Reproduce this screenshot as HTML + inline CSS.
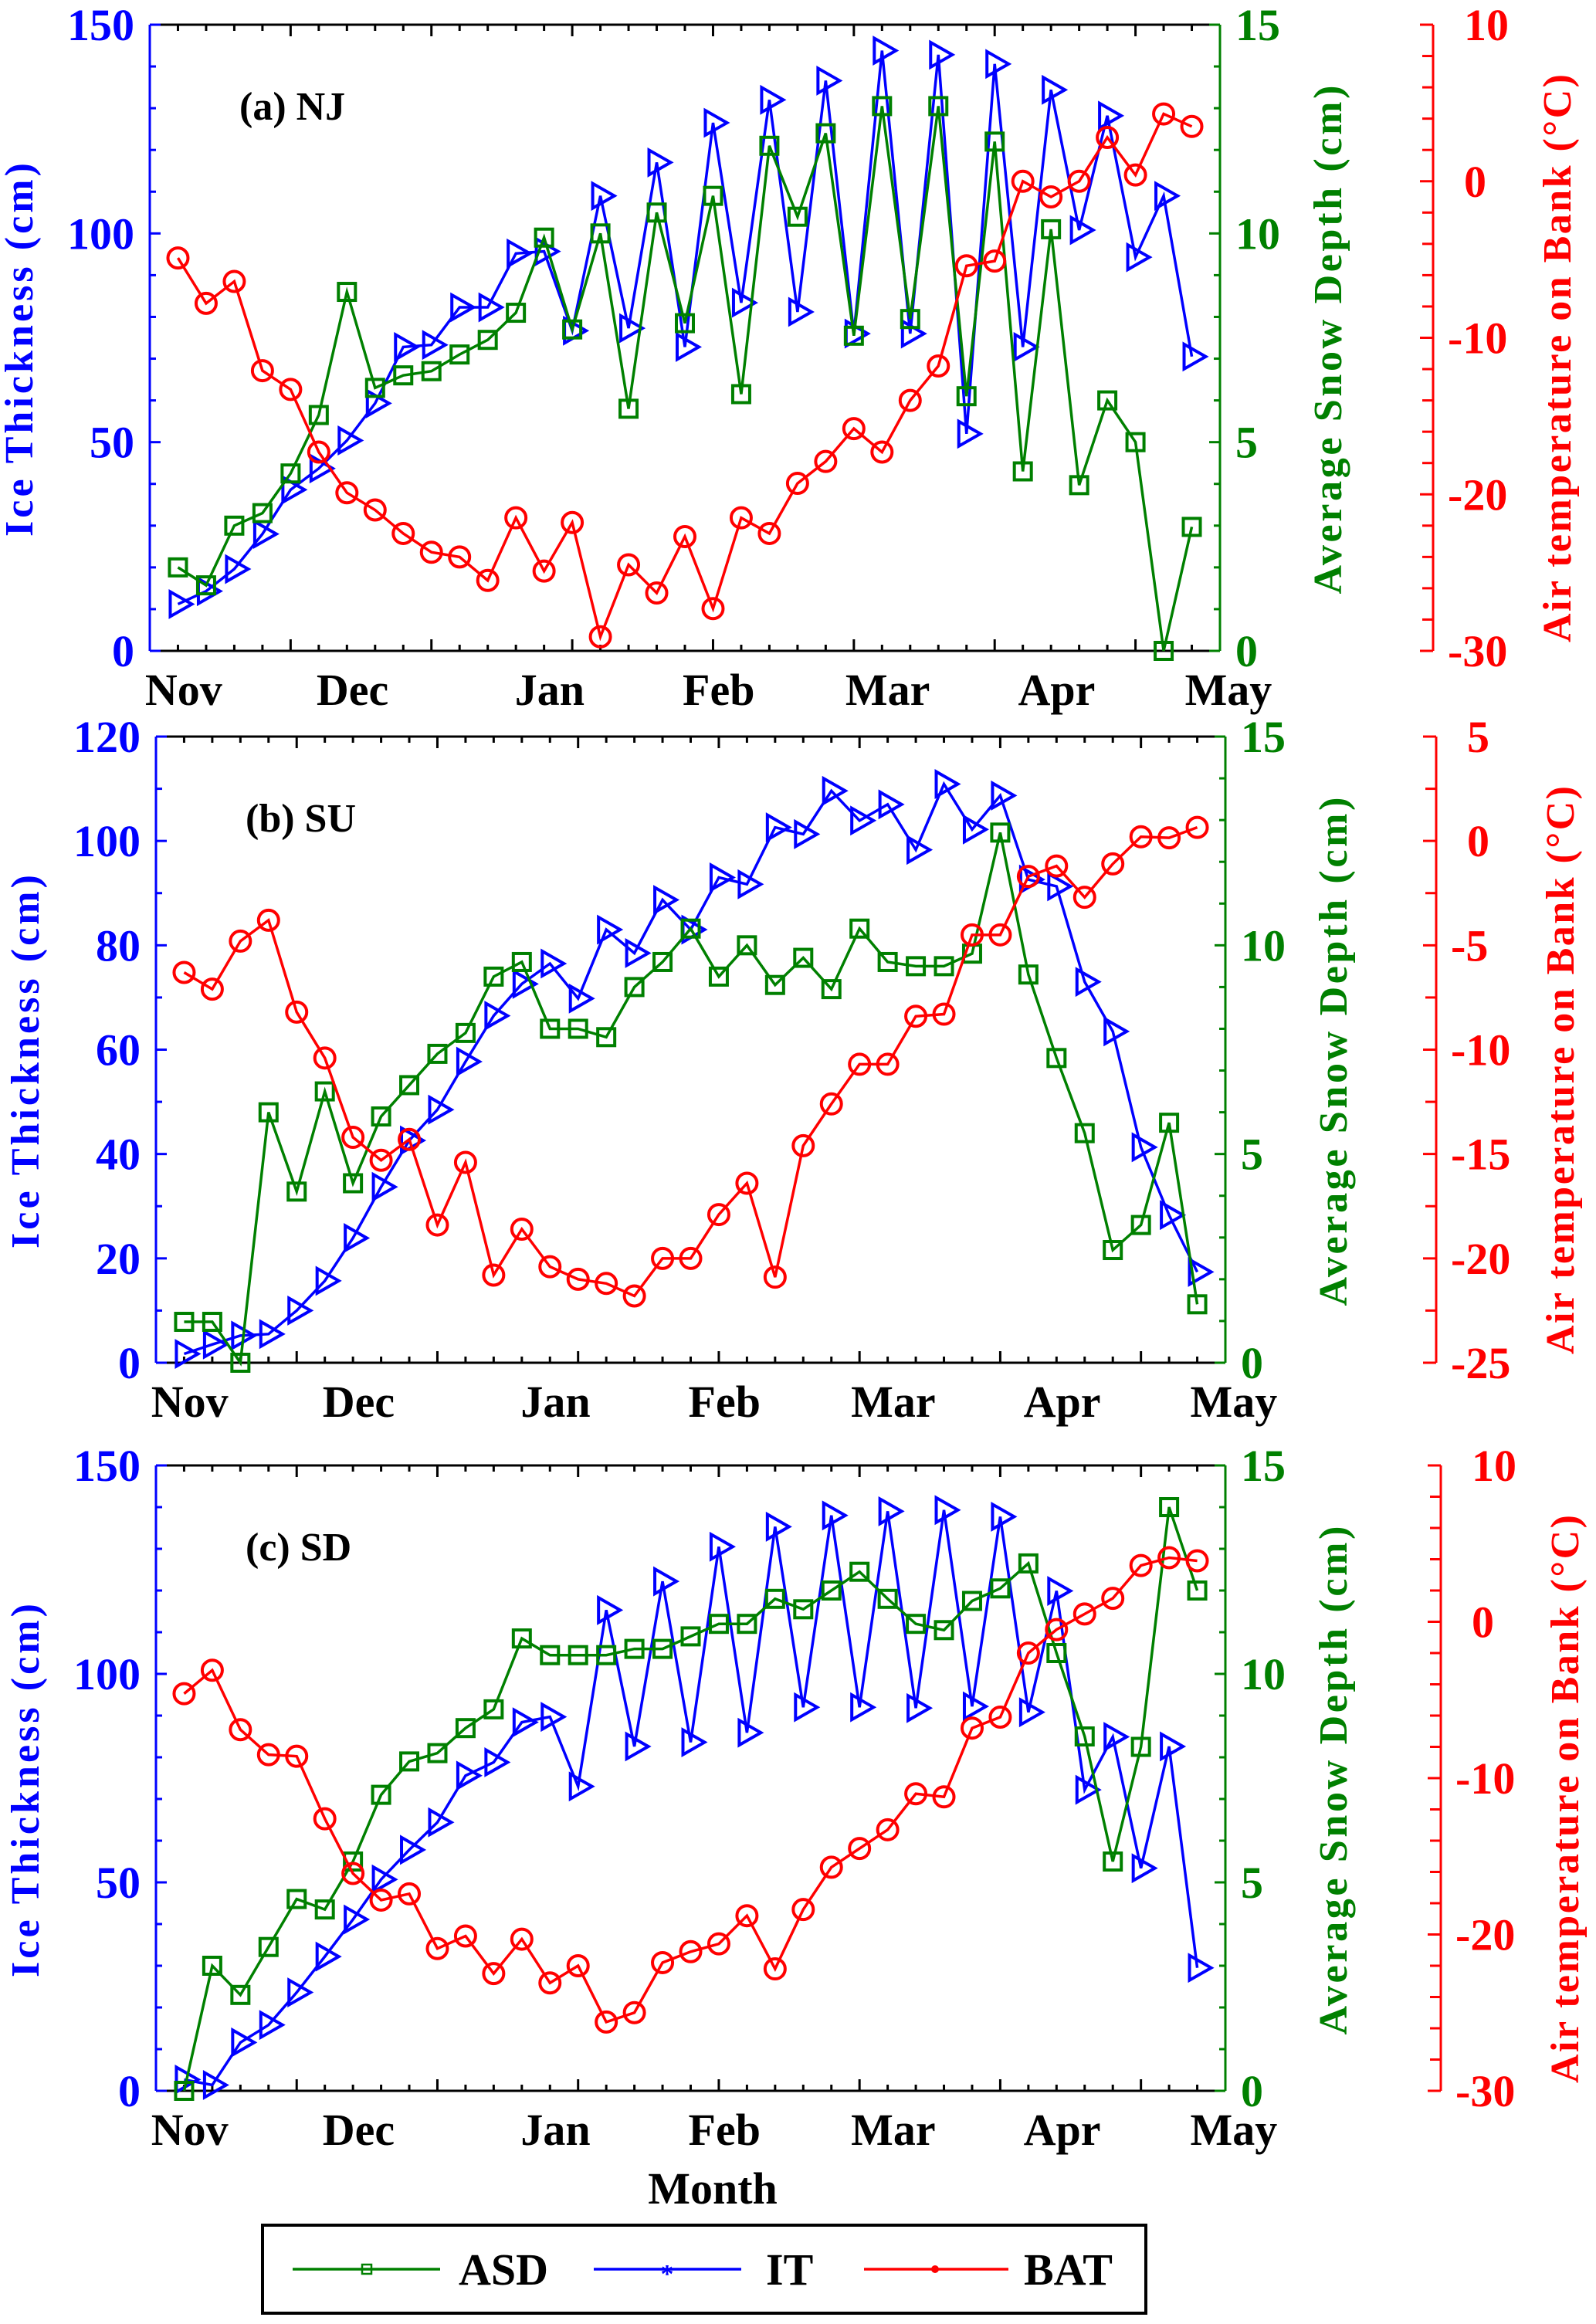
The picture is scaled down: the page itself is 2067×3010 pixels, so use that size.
<!DOCTYPE html>
<html><head><meta charset="utf-8">
<style>
html,body{margin:0;padding:0;background:#fff;}
svg{display:block;font-family:"Liberation Serif",serif;font-weight:bold;}
</style></head>
<body>
<svg id="chart" width="2067" height="3010" viewBox="0 0 2067 3010" xmlns="http://www.w3.org/2000/svg">
<rect x="0" y="0" width="2067" height="3010" fill="#fff"/>
</svg>
<script>
// ---- data ----
const months = ["Nov","Dec","Jan","Feb","Mar","Apr","May"];
const monthIdx = [0.2, 6.2, 13.2, 19.2, 25.2, 31.2, 37.3];
const panelTitles = ["(a) NJ","(b) SU","(c) SD"];

const itNJ = [11.2,14.3,19.6,28,38.6,43.7,50.4,59.3,72.8,73.3,82.3,82.3,95.2,95.7,76.7,109,77.3,117,72.8,126.5,83.4,132,81.2,136.6,76,143.8,76,142.8,52,140.6,72.8,134.4,100.8,128.2,94.3,109,70.5];
const asdNJ = [2.0,1.57,3.0,3.3,4.25,5.65,8.6,6.3,6.6,6.7,7.1,7.45,8.1,9.9,7.7,10.0,5.8,10.5,7.85,10.9,6.15,12.1,10.4,12.4,7.55,13.05,7.95,13.05,6.1,12.2,4.3,10.1,3.97,6.0,5.0,0,2.97];
const batNJ = [-4.9,-7.8,-6.4,-12.1,-13.3,-17.3,-19.9,-21.0,-22.5,-23.7,-24.0,-25.5,-21.5,-24.9,-21.8,-29.1,-24.5,-26.3,-22.7,-27.3,-21.5,-22.5,-19.3,-17.9,-15.8,-17.3,-14.0,-11.8,-5.4,-5.1,0.0,-1.0,0.0,2.8,0.4,4.3,3.5];

const itSU = [1.7,3.5,5.2,5.5,10,15.7,23.9,33.7,42.6,48.5,57.7,66.5,72.6,76.5,69.8,83,78.5,88.7,83,93,91.7,102.6,101.3,109.6,103.9,107,98.3,110.9,102.2,108.7,92.6,91.3,73,63.5,41.3,28.3,17.4];
const asdSU = [0.98,0.98,0,6.0,4.1,6.5,4.3,5.9,6.65,7.4,7.9,9.25,9.6,8.0,8.0,7.8,9.0,9.6,10.4,9.25,10.0,9.05,9.7,8.95,10.4,9.6,9.5,9.5,9.8,12.7,9.3,7.3,5.5,2.7,3.3,5.75,1.4];
const batSU = [-6.3,-7.1,-4.8,-3.8,-8.2,-10.4,-14.2,-15.3,-14.3,-18.4,-15.4,-20.8,-18.6,-20.4,-21.0,-21.2,-21.8,-20.0,-20.0,-17.9,-16.4,-20.9,-14.6,-12.6,-10.7,-10.7,-8.4,-8.3,-4.5,-4.5,-1.7,-1.2,-2.7,-1.1,0.2,0.15,0.65];

const itSD = [2.7,1.4,11.6,15.8,23.6,32.2,41.1,50.7,57.8,64.4,75.6,78.8,88.4,89.7,73,115.3,82.6,122.2,83.6,130.5,85.9,135.3,92,138,92,139,91.8,139.3,92.2,137.7,90.8,119.9,72.2,84.9,53.4,82.6,29.5];
const asdSD = [0,3.0,2.3,3.45,4.6,4.35,5.5,7.1,7.9,8.1,8.7,9.15,10.85,10.45,10.45,10.45,10.6,10.6,10.9,11.2,11.2,11.8,11.55,12.0,12.45,11.8,11.2,11.05,11.75,12.05,12.65,10.5,8.5,5.5,8.25,14.0,12.0];
const batSD = [-4.6,-3.1,-6.9,-8.5,-8.6,-12.6,-16.1,-17.8,-17.4,-20.9,-20.1,-22.5,-20.3,-23.1,-22.0,-25.6,-25.0,-21.8,-21.1,-20.6,-18.8,-22.2,-18.4,-15.7,-14.5,-13.3,-11.0,-11.2,-6.8,-6.1,-2.0,-0.5,0.5,1.5,3.6,4.1,3.9];

const itSeries = [itNJ, itSU, itSD];
const asdSeries = [asdNJ, asdSU, asdSD];
const batSeries = [batNJ, batSU, batSD];

const itTicks = [[0,50,100,150],[0,20,40,60,80,100,120],[0,50,100,150]];
const asdTicks = [0,5,10,15];
const batTicks = [[-30,-20,-10,0,10],[-25,-20,-15,-10,-5,0,5],[-30,-20,-10,0,10]];

// ---- layout ----
const NS = "http://www.w3.org/2000/svg";
const svg = document.getElementById("chart");
const BLUE="#0000ff", GREEN="#008000", RED="#ff0000";
const panels = [
  {x0:194,x1:1580,y0:32,y1:843,rx:1856,itMax:150,itMinor:10,batMin:-30,batMax:10,batMinor:2},
  {x0:202,x1:1587,y0:954,y1:1765,rx:1860,itMax:120,itMinor:10,batMin:-25,batMax:5,batMinor:2.5},
  {x0:202,x1:1587,y0:1898,y1:2708,rx:1866,itMax:150,itMinor:10,batMin:-30,batMax:10,batMinor:2}
];
function mk(tag, attrs, parent){
  const e = document.createElementNS(NS, tag);
  for (const k in attrs) e.setAttribute(k, attrs[k]);
  (parent||svg).appendChild(e);
  return e;
}
function txt(s, attrs, parent){ const t = mk("text", attrs, parent); t.textContent = s; return t; }

panels.forEach((P, pi) => {
  const g = mk("g", {});
  
  
  const xs = i => P.x0 + (i + 1) * (P.x1 - P.x0) / 38;
  const yIT = v => P.y1 - v / P.itMax * (P.y1 - P.y0);
  const yASD = v => P.y1 - v / 15 * (P.y1 - P.y0);
  const yBAT = v => P.y1 - (v - P.batMin) / (P.batMax - P.batMin) * (P.y1 - P.y0);

  mk("line",{x1:P.x0,y1:P.y0,x2:P.x1,y2:P.y0,stroke:"#000","stroke-width":3},g);
  mk("line",{x1:P.x0,y1:P.y1,x2:P.x1,y2:P.y1,stroke:"#000","stroke-width":3},g);
  for (let i=0;i<37;i++){
    const major = (i%5===4);
    const L = major?15:8;
    mk("line",{x1:xs(i),y1:P.y1,x2:xs(i),y2:P.y1-L,stroke:"#000","stroke-width":3},g);
    mk("line",{x1:xs(i),y1:P.y0,x2:xs(i),y2:P.y0+L,stroke:"#000","stroke-width":3},g);
  }
  const la = mk("g",{},g);
  
  
  mk("line",{x1:P.x0,y1:P.y0,x2:P.x0,y2:P.y1,stroke:BLUE,"stroke-width":3},la);
  for (let v=0; v<=P.itMax+0.01; v+=P.itMinor){
    const major = itTicks[pi].includes(v);
    mk("line",{x1:P.x0,y1:yIT(v),x2:P.x0+(major?14:8),y2:yIT(v),stroke:BLUE,"stroke-width":3},la);
  }
  itTicks[pi].forEach(v=>{
    txt(String(v),{x:P.x0-20,y:yIT(v)+20,"text-anchor":"end","font-size":58,fill:BLUE},la);
  });
  const lt = txt("Ice Thickness (cm)",{x:0,y:0,"text-anchor":"middle","font-size":52,fill:BLUE,
     transform:`translate(${P.x0-152},${P.y0+421}) rotate(-90)`,textLength:484,lengthAdjust:"spacing"},la);
  
  

  const ga = mk("g",{},g);
  
  
  mk("line",{x1:P.x1,y1:P.y0,x2:P.x1,y2:P.y1,stroke:GREEN,"stroke-width":3},ga);
  for (let v=0; v<=15; v++){
    const major = asdTicks.includes(v);
    mk("line",{x1:P.x1,y1:yASD(v),x2:P.x1-(major?14:8),y2:yASD(v),stroke:GREEN,"stroke-width":3},ga);
  }
  asdTicks.forEach(v=>{
    txt(String(v),{x:P.x1+20,y:yASD(v)+20,"font-size":58,fill:GREEN},ga);
  });
  const gt = txt("Average Snow Depth (cm)",{x:0,y:0,"text-anchor":"middle","font-size":52,fill:GREEN,
     transform:`translate(${P.x1+157},${P.y0+408}) rotate(-90)`,textLength:659,lengthAdjust:"spacing"},ga);
  
  

  const ra = mk("g",{},g);
  
  
  mk("line",{x1:P.rx,y1:P.y0,x2:P.rx,y2:P.y1,stroke:RED,"stroke-width":3},ra);
  for (let v=P.batMin; v<=P.batMax+0.01; v+=P.batMinor){
    const major = batTicks[pi].includes(v);
    mk("line",{x1:P.rx,y1:yBAT(v),x2:P.rx-(major?17:14),y2:yBAT(v),stroke:RED,"stroke-width":3},ra);
  }
  batTicks[pi].forEach(v=>{
    txt(String(v),{x:P.rx+(v<0?19:40),y:yBAT(v)+20,"font-size":58,fill:RED},ra);
  });
  const rt = txt("Air temperature on Bank (°C)",{x:0,y:0,"text-anchor":"middle","font-size":52,fill:RED,
     transform:`translate(${P.rx+178},${P.y0+432}) rotate(-90)`,textLength:736,lengthAdjust:"spacing"},ra);
  
  

  months.forEach((m,k)=>{
    const t = txt(m,{x:xs(monthIdx[k]),y:P.y1+70,"text-anchor":"middle","font-size":58,fill:"#000"},g);
    
    
  });
  const pt = txt(panelTitles[pi],{x:P.x0+116,y:P.y0+123,"font-size":52,fill:"#000"},g);
  
  

  const it = itSeries[pi], asd = asdSeries[pi], bat = batSeries[pi];
  const sIT = mk("g",{},g);
  
  
  mk("polyline",{points:it.map((v,i)=>xs(i)+","+yIT(v)).join(" "),fill:"none",stroke:BLUE,"stroke-width":3.5},sIT);
  it.forEach((v,i)=>{
    const x=xs(i), y=yIT(v);
    const p = mk("polygon",{points:`${x-10},${y-16} ${x-10},${y+16} ${x+18},${y}`,fill:"none",stroke:BLUE,"stroke-width":4},sIT);
    
    
  });
  const sA = mk("g",{},g);
  
  
  mk("polyline",{points:asd.map((v,i)=>xs(i)+","+yASD(v)).join(" "),fill:"none",stroke:GREEN,"stroke-width":3.5},sA);
  asd.forEach((v,i)=>{
    const x=xs(i), y=yASD(v);
    const r = mk("rect",{x:x-11,y:y-11,width:22,height:22,fill:"none",stroke:GREEN,"stroke-width":4},sA);
    
    
  });
  const sB = mk("g",{},g);
  
  
  mk("polyline",{points:bat.map((v,i)=>xs(i)+","+yBAT(v)).join(" "),fill:"none",stroke:RED,"stroke-width":3.5},sB);
  bat.forEach((v,i)=>{
    const c = mk("circle",{cx:xs(i),cy:yBAT(v),r:13,fill:"none",stroke:RED,"stroke-width":4},sB);
    
    
  });
});

const mt = txt("Month",{x:923,y:2854,"text-anchor":"middle","font-size":58,fill:"#000"});



const lg = mk("g",{});


mk("rect",{x:340,y:2882,width:1144,height:114,fill:"#fff",stroke:"#000","stroke-width":4},lg);
const e1 = mk("g",{},lg);


mk("line",{x1:379,y1:2939,x2:570,y2:2939,stroke:GREEN,"stroke-width":3.5},e1);
mk("rect",{x:469,y:2933,width:12,height:12,fill:"none",stroke:GREEN,"stroke-width":2.5},e1);
txt("ASD",{x:594,y:2959,"font-size":58,fill:"#000"},e1);
const e2 = mk("g",{},lg);


mk("line",{x1:769,y1:2939,x2:960,y2:2939,stroke:BLUE,"stroke-width":3.5},e2);
txt("*",{x:864,y:2956,"text-anchor":"middle","font-size":34,fill:BLUE},e2);
txt("IT",{x:992,y:2959,"font-size":58,fill:"#000"},e2);
const e3 = mk("g",{},lg);


mk("line",{x1:1119,y1:2939,x2:1306,y2:2939,stroke:RED,"stroke-width":3.5},e3);
mk("circle",{cx:1211,cy:2939,r:5,fill:RED},e3);
txt("BAT",{x:1326,y:2959,"font-size":58,fill:"#000"},e3);
</script>
</body></html>
